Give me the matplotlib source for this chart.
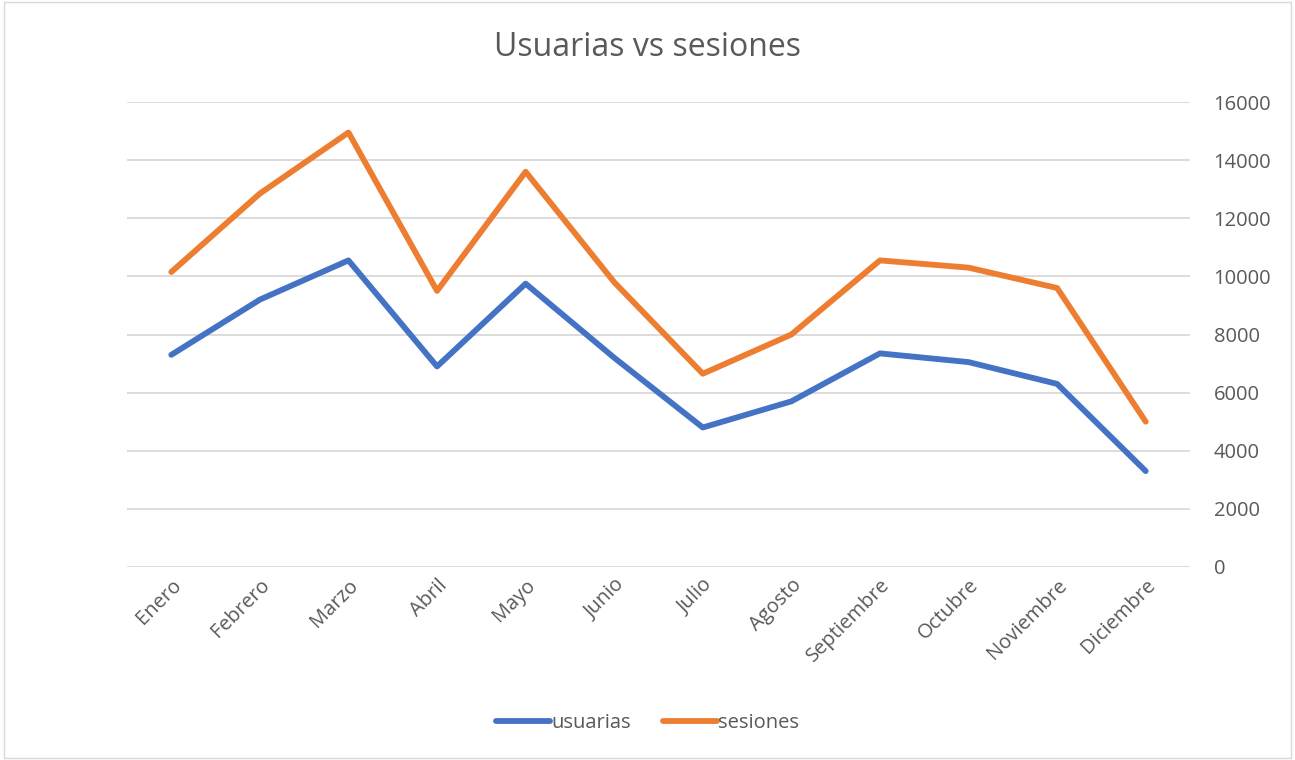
import matplotlib
matplotlib.use("Agg")
import matplotlib.pyplot as plt
from matplotlib.patches import Rectangle

meses = ["Enero", "Febrero", "Marzo", "Abril", "Mayo", "Junio", "Julio",
         "Agosto", "Septiembre", "Octubre", "Noviembre", "Diciembre"]
usuarias = [7300, 9200, 10550, 6900, 9750, 7200, 4800, 5700, 7350, 7050, 6300, 3300]
sesiones = [10150, 12850, 14950, 9500, 13600, 9800, 6650, 8000, 10550, 10300, 9600, 5000]
yticks = [0, 2000, 4000, 6000, 8000, 10000, 12000, 14000, 16000]

plt.rcParams['font.family'] = ['Open Sans', 'DejaVu Sans']
gris = "#595959"

fig = plt.figure(figsize=(12.95, 7.6), dpi=100)
fig.patches.append(Rectangle((0.003, 0.003), 0.994, 0.994, transform=fig.transFigure,
                             fill=False, edgecolor="#D9D9D9", linewidth=1))
ax = fig.add_axes([127 / 1295, 1 - 567 / 760, (1190 - 127) / 1295, (567 - 102) / 760])

x = range(len(meses))
ax.plot(x, usuarias, color="#4472C4", linewidth=4.2, label="usuarias", solid_capstyle="round")
ax.plot(x, sesiones, color="#ED7D31", linewidth=4.2, label="sesiones", solid_capstyle="round")

ax.set_xlim(-0.5, len(meses) - 0.5)
ax.set_ylim(0, 16000)
ax.set_yticks(yticks)
ax.yaxis.tick_right()
ax.tick_params(axis="y", length=0, pad=17, labelsize=14.5, labelcolor=gris)
ax.set_xticks(list(x))
ax.set_xticklabels(meses, rotation=45, ha="right", rotation_mode="anchor")
ax.tick_params(axis="x", length=0, pad=6, labelsize=14.5, labelcolor=gris)
ax.grid(axis="y", color="#D9D9D9", linewidth=1.3)
ax.set_axisbelow(True)
for s in ax.spines.values():
    s.set_visible(False)

fig.text(0.5, 1 - 48 / 760, "Usuarias vs sesiones", ha="center", va="center",
         fontsize=23, color=gris)
fig.legend(loc="center", bbox_to_anchor=(0.5, 1 - 723 / 760), ncol=2, frameon=False,
           fontsize=14.5, labelcolor=gris, handlelength=2.7, handletextpad=0.05,
           columnspacing=1.6)

fig.savefig("out.png", dpi=100)
